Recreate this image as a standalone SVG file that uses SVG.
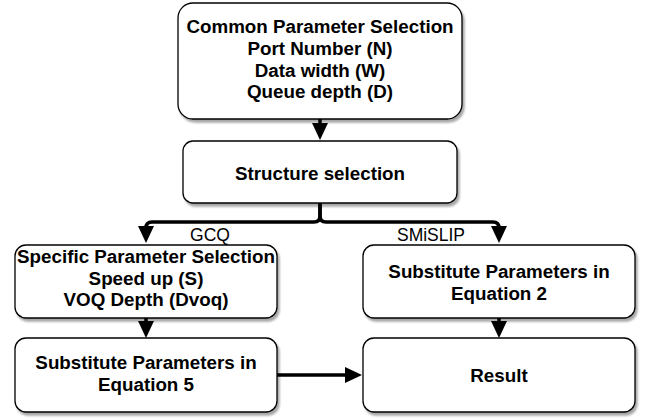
<svg xmlns="http://www.w3.org/2000/svg" width="649" height="420" viewBox="0 0 649 420">
<defs>
<filter id="sh" x="-10%" y="-10%" width="130%" height="140%">
<feGaussianBlur in="SourceAlpha" stdDeviation="1.2"/>
<feOffset dx="2" dy="3" result="b"/>
<feComponentTransfer><feFuncA type="linear" slope="0.35"/></feComponentTransfer>
<feMerge><feMergeNode/><feMergeNode in="SourceGraphic"/></feMerge>
</filter>
<marker id="ah" markerUnits="userSpaceOnUse" markerWidth="18" markerHeight="18" refX="9" refY="9" orient="auto" viewBox="0 0 18 18">
<path d="M0,1 L17,9 L0,17 z" fill="#000"/>
</marker>
</defs>
<style>
.box{fill:#fff;stroke:#000;stroke-width:1.3;filter:url(#sh)}
.t{font-family:"Liberation Sans",Arial,sans-serif;font-weight:bold;font-size:18.8px;text-anchor:middle;fill:#000}
.l{font-family:"Liberation Sans",Arial,sans-serif;font-size:17.5px;text-anchor:middle;fill:#000}
.e{fill:none;stroke:#000;stroke-width:3.5;marker-end:url(#ah)}
</style>
<rect width="649" height="420" fill="#fff"/>
<g id="common">
<rect class="box" x="178" y="3" width="284" height="116" rx="15"/>
<text class="t" x="320" y="33">Common Parameter Selection</text>
<text class="t" x="320" y="55">Port Number (N)</text>
<text class="t" x="320" y="77">Data width (W)</text>
<text class="t" x="320" y="98">Queue depth (D)</text>
</g>
<g id="structure">
<rect class="box" x="183" y="141" width="274" height="62" rx="10"/>
<text class="t" x="320" y="180">Structure selection</text>
</g>
<g id="specific">
<rect class="box" x="15" y="245" width="262" height="73" rx="11"/>
<text class="t" x="146" y="263">Specific Parameter Selection</text>
<text class="t" x="146" y="285">Speed up (S)</text>
<text class="t" x="146" y="306">VOQ Depth (Dvoq)</text>
</g>
<g id="eq5">
<rect class="box" x="15" y="338" width="262" height="74" rx="11"/>
<text class="t" x="146" y="369">Substitute Parameters in</text>
<text class="t" x="146" y="391">Equation 5</text>
</g>
<g id="eq2">
<rect class="box" x="363" y="245" width="272" height="73" rx="11"/>
<text class="t" x="499" y="278">Substitute Parameters in</text>
<text class="t" x="499" y="300">Equation 2</text>
</g>
<g id="result">
<rect class="box" x="363" y="338" width="272" height="74" rx="11"/>
<text class="t" x="499" y="381.5">Result</text>
</g>
<g id="connectors">
<path class="e" d="M320,119 L320,132"/>
<path class="e" d="M320,203 L320,216 Q320,222 314,222 L152,222 Q146,222 146,228 L146,235"/>
<path class="e" d="M320,203 L320,216 Q320,222 326,222 L493,222 Q499,222 499,228 L499,235"/>
<path class="e" d="M146,318 L146,330"/>
<path class="e" d="M499,318 L499,330"/>
<path class="e" d="M277,375 L354,375"/>
<text class="l" x="210" y="241">GCQ</text>
<text class="l" x="431" y="241">SMiSLIP</text>
</g>
</svg>
